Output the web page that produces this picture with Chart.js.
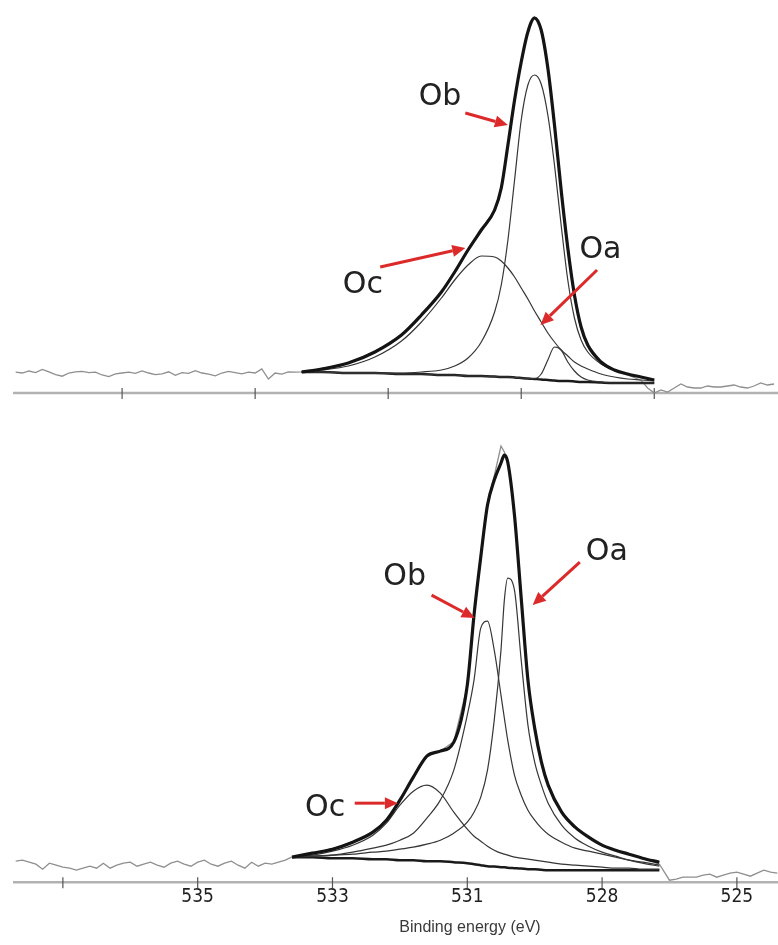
<!DOCTYPE html>
<html>
<head>
<meta charset="utf-8">
<script src="https://cdn.jsdelivr.net/npm/chart.js@4.4.1/dist/chart.umd.min.js"></script>
<style>
body{margin:0;background:#fff;}
canvas{position:absolute;left:0;}
</style>
</head>
<body>
<canvas id="top_chart" width="778" height="420" style="top:0"></canvas>
<canvas id="bottom_chart" width="778" height="520" style="top:425px"></canvas>
<script>
// O 1s spectra, binding energy (eV) vs intensity (a.u.)

// ---- top sample ----
const topFitE = [533.3,533.0,532.6,532.2,531.8,531.5,531.2,531.0,530.8,530.6,530.4,530.3,530.2,530.1,530.0,529.9,529.8,529.7,529.6,529.5,529.4,529.3,529.2,529.1,529.0,528.8,528.6,528.4,528.2,528.0];
const topEnvelope = [5.25,6,7.5,10.25,14.5,19.5,25.25,30.25,35.75,40.75,45.75,51.25,62,73.25,82.75,90.25,93.75,90.75,81.25,67,50.75,36.25,24.5,16.5,12,7.75,5.75,4.75,4,3.25];
const topOb = [5.25,5.25,5,5,5,5.25,5.75,6.75,8.75,12.75,20.25,27,38.25,53.25,68.25,77,79.5,77.25,69.5,57,42,28.25,18.75,13.25,10.25,7.25,5.75,4.75,4,3.25];
const topOc = [5.25,5.75,6.75,9,13,17.75,23.75,28.25,32,34.25,34,33,31.25,29,26.25,23.5,20.5,17.75,15,12.75,10.75,9.25,7.75,6.75,6,4.75,4,3.5,3.25,3];
const topOa = [5.25,5.25,5,5,4.75,4.75,4.5,4.5,4.25,4.25,4.1,4,4,3.9,3.75,3.6,3.6,4.75,8.25,11.5,10.75,7.75,5.5,4,3.25,2.75,2.5,2.5,2.5,2.5];
const topBg = [5.25,5.25,5,5,4.75,4.75,4.5,4.5,4.25,4.25,4.1,4,4,3.9,3.75,3.6,3.5,3.4,3.25,3.1,3,3,2.9,2.75,2.75,2.6,2.5,2.5,2.5,2.5];
const topRawE = [537.6,537.5,537.4,537.3,537.2,537.1,537.0,536.9,536.8,536.7,536.6,536.5,536.4,536.3,536.2,536.1,536.0,535.9,535.8,535.7,535.6,535.5,535.4,535.3,535.2,535.1,535.0,534.9,534.8,534.7,534.6,534.5,534.4,534.3,534.2,534.1,534.0,533.9,533.8,533.7,533.6,533.5,533.4,
  533.3,533.0,532.6,532.2,531.8,531.5,531.2,531.0,530.8,530.6,530.4,530.3,530.2,530.1,530.0,529.9,529.8,529.7,529.6,529.5,529.4,529.3,529.2,529.1,529.0,528.8,528.6,528.4,528.2,
  528.1,528.0,527.9,527.8,527.7,527.6,527.5,527.4,527.3,527.2,527.1,527.0,526.9,526.8,526.7,526.6,526.5,526.4,526.3,526.2];
const topRaw = [5.2,5.0,5.5,5.1,5.9,5.3,4.6,4.2,5.0,5.3,5.4,5.1,5.2,4.5,4.1,4.8,5.0,5.2,4.9,5.5,5.0,4.6,4.8,5.3,4.4,5.1,4.9,5.6,5.0,4.7,4.3,5.0,5.4,5.1,4.8,5.2,5.0,6.0,3.5,5.0,4.7,5.3,5.2,
  5.3,6.1,7.4,10.3,14.6,19.4,25.3,30.1,35.8,40.9,45.6,51.4,62.1,73.0,83.0,90.4,94.0,90.6,81.4,66.8,50.9,36.0,24.7,16.3,12.1,7.9,5.6,4.5,3.2,
  1.25,0,0.75,0.25,1.25,2.25,1.5,1.25,1.25,1.75,1.5,1.5,1.75,2,1.5,1.25,1.75,2.5,2,2.25];
const topTickE = [536,534,532,530,528];

// ---- bottom sample ----
const bottomFitE = [533.6,533.3,533.0,532.7,532.4,532.2,532.0,531.8,531.6,531.4,531.2,531.0,530.9,530.8,530.7,530.6,530.5,530.45,530.4,530.3,530.2,530.1,530.0,529.9,529.8,529.6,529.4,529.2,529.0,528.8,528.6,528.4,528.15];
const bottomEnvelope = [6.25,7.25,8.25,10,12.5,15.5,20.5,26.25,31.5,32.75,35,49.25,66.75,81.25,94.25,100.5,104.75,106.75,105,91.75,71,50.5,38.5,30,24.25,17.5,13.75,11.25,9.25,8,7,6,5];
const bottomOa = [6.25,6.5,6.75,7,7.5,7.75,8.25,8.75,9.5,10.5,12.25,15,17.5,21.25,28,40.5,58,70.5,76,73,55.5,39.25,30,24.25,19.75,14.25,11,9,7.5,6.5,5.5,4.75,4];
const bottomOb = [6.25,6.5,6.75,7.5,8.5,9.25,10.5,12.25,16,20.5,28,41.75,50.5,63.5,65.25,58,46.75,41,35.5,26.75,21.75,18,15.5,13.5,12,10,8.5,7.75,7,6.25,5.5,5,4.25];
const bottomOc = [6.25,6.75,7.75,9.25,11.75,14.75,19.25,22.75,24.25,22.25,17.5,13.25,11.5,10.25,9,8,7.25,7,6.75,6.25,6,5.75,5.5,5.25,5,4.5,4.25,4,3.75,3.5,3.5,3.25,3.25];
const bottomBg = [6.25,6.25,6,6,5.75,5.75,5.5,5.5,5.25,5.25,5,4.75,4.5,4.25,4,3.9,3.75,3.75,3.6,3.5,3.4,3.25,3.25,3.1,3,3,3,3,3,3,3,3,3];
const bottomRawE = [537.7,537.6,537.5,537.4,537.3,537.2,537.1,537.0,536.9,536.8,536.7,536.6,536.5,536.4,536.3,536.2,536.1,536.0,535.9,535.8,535.7,535.6,535.5,535.4,535.3,535.2,535.1,535.0,534.9,534.8,534.7,534.6,534.5,534.4,534.3,534.2,534.1,534.0,533.9,533.8,533.7,
  533.6,533.3,533.0,532.7,532.4,532.2,532.0,531.8,531.6,531.4,531.2,531.0,530.9,530.8,530.7,530.6,530.5,530.45,530.4,530.3,530.2,530.1,530.0,529.9,529.8,529.6,529.4,529.2,529.0,528.8,528.6,528.4,528.15,
  528.0,527.9,527.8,527.7,527.6,527.5,527.4,527.3,527.2,527.1,527.0,526.9,526.8,526.7,526.6,526.5,526.4];
const bottomRaw = [5.25,5.5,5,4.5,3.25,4.75,4.25,3.75,3.5,3,3.5,4,3.5,4.75,3.5,4.25,4.75,5,4,4.5,5,4.25,3.75,4.75,5.25,4.5,4,5,5.5,4.5,4,4.75,5.25,4.25,3.5,5,4,4.75,4.5,5,5.5,
  6.3,7.1,8.4,10.1,12.4,15.6,20.4,26.4,31.4,32.8,35.1,49.0,66.5,81.5,94.5,101.5,109.0,107.5,105.5,92.0,71.3,50.2,38.6,30.2,24.0,17.6,13.9,11.2,9.3,8.0,7.0,6.1,4.5,
  0.5,0.75,1.25,1.25,1.25,1.75,2,1.25,1.75,2.25,2.5,2,1.5,2.25,3,2.5,2.25];
const bottomTickE = [537,535,533,531,529,527];
const bottomTickLabels = ['','535','533','531','528','525'];
const xTitle = 'Binding energy (eV)';

// peak labels with red arrows (eV, a.u.)
const topNotes = [
  {text:'Ob', at:[531.22,74], from:[530.84,70], to:[530.20,67]},
  {text:'Oc', at:[532.38,27], from:[532.12,31.5], to:[530.84,36.25]},
  {text:'Oa', at:[528.81,35.75], from:[528.86,30.75], to:[529.71,17]}
];
const bottomNotes = [
  {text:'Ob', at:[531.93,76.25], from:[531.53,71.75], to:[530.89,66]},
  {text:'Oa', at:[528.93,82.5], from:[529.33,80], to:[530.03,69.25]},
  {text:'Oc', at:[533.11,18.5], from:[532.67,19.75], to:[532.03,19.75]}
];

const pts = (e, v) => e.map((x, i) => ({x: x, y: v[i]}));
const fitLine = (e, v, color, w) => ({data: pts(e, v), borderColor: color, borderWidth: w, pointRadius: 0, cubicInterpolationMode: 'monotone', fill: false, clip: false});
const rawLine = (e, v) => ({data: pts(e, v), borderColor: '#8f8f8f', borderWidth: 1.3, pointRadius: 0, tension: 0, fill: false, clip: false});

function decorations(ticks, notes, title) {
  return {
    id: 'xpsDeco',
    beforeDatasetsDraw(chart) {
      const {ctx, chartArea, scales} = chart;
      const y0 = chartArea.bottom;
      ctx.save();
      ctx.strokeStyle = '#b2b2b2';
      ctx.lineWidth = 2.5;
      ctx.beginPath();
      ctx.moveTo(chartArea.left, y0);
      ctx.lineTo(chartArea.right, y0);
      ctx.stroke();
      ctx.strokeStyle = '#555';
      ctx.lineWidth = 1.2;
      ticks.forEach(v => {
        const px = scales.x.getPixelForValue(v);
        ctx.beginPath();
        ctx.moveTo(px, y0 - 5);
        ctx.lineTo(px, y0 + 6);
        ctx.stroke();
      });
      ctx.restore();
    },
    afterDatasetsDraw(chart) {
      const {ctx, scales} = chart;
      const X = v => scales.x.getPixelForValue(v), Y = v => scales.y.getPixelForValue(v);
      ctx.save();
      notes.forEach(n => {
        ctx.font = '30px "DejaVu Sans"';
        ctx.textAlign = 'center';
        ctx.textBaseline = 'middle';
        ctx.fillStyle = '#222';
        ctx.fillText(n.text, X(n.at[0]), Y(n.at[1]));
        // arrow
        const x1 = X(n.from[0]), y1 = Y(n.from[1]), x2 = X(n.to[0]), y2 = Y(n.to[1]);
        const a = Math.atan2(y2 - y1, x2 - x1), head = 13, half = 6;
        const bx = x2 - head * Math.cos(a), by = y2 - head * Math.sin(a);
        ctx.strokeStyle = '#dc2a2a';
        ctx.fillStyle = '#dc2a2a';
        ctx.lineWidth = 3;
        ctx.beginPath();
        ctx.moveTo(x1, y1);
        ctx.lineTo(bx, by);
        ctx.stroke();
        ctx.beginPath();
        ctx.moveTo(x2, y2);
        ctx.lineTo(bx + half * Math.sin(a), by - half * Math.cos(a));
        ctx.lineTo(bx - half * Math.sin(a), by + half * Math.cos(a));
        ctx.closePath();
        ctx.fill();
      });
      if (title) {
        ctx.font = '16px "Liberation Sans", sans-serif';
        ctx.fillStyle = '#3a3a3a';
        ctx.textAlign = 'center';
        ctx.textBaseline = 'middle';
        ctx.fillText(title.text, X(title.at), chart.chartArea.bottom + title.dy);
      }
      ctx.restore();
    }
  };
}

const top_chart = new Chart(document.getElementById('top_chart'), {
  type: 'line',
  data: {
    datasets: [
      fitLine(topFitE, topEnvelope, '#141414', 3.2),
      fitLine(topFitE, topOb, '#363636', 1.2),
      fitLine(topFitE, topOc, '#363636', 1.2),
      fitLine(topFitE, topOa, '#363636', 1.2),
      fitLine(topFitE, topBg, '#1a1a1a', 2.5),
      rawLine(topRawE, topRaw)
    ]
  },
  options: {
    responsive: false,
    animation: false,
    devicePixelRatio: 1,
    layout: {padding: {left: 13, right: 0, top: 0, bottom: 27}},
    plugins: {legend: {display: false}, tooltip: {enabled: false}},
    scales: {
      x: {type: 'linear', reverse: true, min: 526.14, max: 537.64, display: false},
      y: {min: 0, max: 98.25, display: false}
    }
  },
  plugins: [decorations(topTickE, topNotes, null)]
});

const bottom_chart = new Chart(document.getElementById('bottom_chart'), {
  type: 'line',
  data: {
    datasets: [
      fitLine(bottomFitE, bottomEnvelope, '#141414', 3.2),
      fitLine(bottomFitE, bottomOa, '#363636', 1.2),
      fitLine(bottomFitE, bottomOb, '#363636', 1.2),
      fitLine(bottomFitE, bottomOc, '#363636', 1.2),
      fitLine(bottomFitE, bottomBg, '#1a1a1a', 2.5),
      rawLine(bottomRawE, bottomRaw)
    ]
  },
  options: {
    responsive: false,
    animation: false,
    devicePixelRatio: 1,
    layout: {padding: {left: 13, right: 0, top: 17, bottom: 34}},
    plugins: {legend: {display: false}, tooltip: {enabled: false}},
    scales: {
      x: {
        type: 'linear', reverse: true, min: 526.39, max: 537.74,
        grid: {display: false, drawTicks: false},
        border: {display: false},
        afterBuildTicks: s => { s.ticks = bottomTickE.map(v => ({value: v})); },
        ticks: {
          autoSkip: false, maxRotation: 0, padding: 3, color: '#1e1e1e',
          font: {family: '"Liberation Sans Narrow", "DejaVu Sans Condensed", sans-serif', size: 19},
          callback: (v, i) => bottomTickLabels[i]
        }
      },
      y: {min: 0, max: 110, display: false}
    }
  },
  plugins: [decorations(bottomTickE, bottomNotes, {text: xTitle, at: 530.96, dy: 45})]
});
</script>
</body>
</html>
